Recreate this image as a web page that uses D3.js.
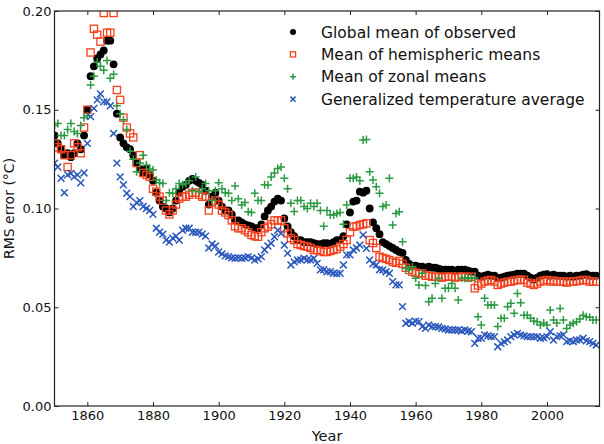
<!DOCTYPE html>
<html>
<head>
<meta charset="utf-8">
<script src="https://cdn.jsdelivr.net/npm/d3@7"></script>
<style>
  body { margin: 0; background: #fff; }
  svg { display: block; font-family: "DejaVu Sans", sans-serif; }
</style>
</head>
<body>
<div class="chart"></div>
<script>
// RMS error per year, 1850 onwards
var startYear = 1850;

var globalMean = [
  0.137, 0.133, 0.130, 0.127, 0.128, 0.126, 0.128, 0.133, 0.130, 0.137,
  0.150, 0.167, 0.172, 0.176, 0.178, 0.180, 0.185, 0.185, 0.173, 0.148,
  0.136, 0.133, 0.131, 0.130, 0.127, 0.123, 0.120, 0.118, 0.120, 0.117,
  0.114, 0.108, 0.104, 0.101, 0.100, 0.098, 0.100, 0.104, 0.108, 0.111,
  0.112, 0.114, 0.115, 0.114, 0.113, 0.112, 0.109, 0.102, 0.106, 0.108,
  0.104, 0.101, 0.099, 0.099, 0.097, 0.094, 0.094, 0.093, 0.092, 0.0915,
  0.091, 0.090, 0.090, 0.092, 0.096, 0.099, 0.101, 0.1035, 0.105, 0.104,
  0.095, 0.091, 0.088, 0.086, 0.084, 0.084, 0.083, 0.083, 0.083, 0.0825,
  0.082, 0.082, 0.0825, 0.0825, 0.082, 0.083, 0.084, 0.084, 0.086, 0.092,
  0.098, 0.1035, 0.104, 0.1085, 0.108, 0.109, 0.100, 0.093, 0.090, 0.087,
  0.083, 0.082, 0.081, 0.080, 0.079, 0.078, 0.0775, 0.074, 0.072, 0.071,
  0.071, 0.0705, 0.0705, 0.070, 0.0705, 0.070, 0.070, 0.0695, 0.069, 0.069,
  0.069, 0.069, 0.0685, 0.069, 0.069, 0.069, 0.0685, 0.068, 0.068, 0.066,
  0.0655, 0.066, 0.0665, 0.066, 0.066, 0.0647, 0.065, 0.0655, 0.066, 0.0663,
  0.0665, 0.067, 0.067, 0.067, 0.066, 0.065, 0.064, 0.065, 0.066, 0.0665,
  0.0668, 0.066, 0.0665, 0.066, 0.066, 0.066, 0.0655, 0.066, 0.0655, 0.066,
  0.066, 0.0665, 0.0668, 0.066, 0.066, 0.066
];

var hemiMean = [
  0.133, 0.131, 0.130, 0.127, 0.121, 0.127, 0.133, 0.131, 0.128, 0.141,
  0.150, 0.179, 0.191, 0.188, 0.1845, 0.199, 0.189, 0.189, 0.199, 0.160,
  0.155, 0.146, 0.141, 0.138, 0.136, 0.123, 0.127, 0.118, 0.117, 0.116,
  0.110, 0.1085, 0.106, 0.104, 0.099, 0.097, 0.099, 0.102, 0.105, 0.106,
  0.106, 0.107, 0.108, 0.108, 0.107, 0.106, 0.106, 0.099, 0.103, 0.104,
  0.102, 0.099, 0.098, 0.0967, 0.094, 0.091, 0.090, 0.090, 0.089, 0.088,
  0.0866, 0.086, 0.0857, 0.088, 0.090, 0.0908, 0.092, 0.094, 0.094, 0.094,
  0.090, 0.0874, 0.085, 0.084, 0.082, 0.0815, 0.081, 0.0807, 0.080, 0.079,
  0.079, 0.0785, 0.078, 0.078, 0.0785, 0.079, 0.0795, 0.0807, 0.082, 0.084,
  0.088, 0.0908, 0.091, 0.0917, 0.092, 0.0925, 0.084, 0.0825, 0.080, 0.0756,
  0.075, 0.0745, 0.0739, 0.073, 0.0725, 0.0735, 0.072, 0.070, 0.0689, 0.068,
  0.0675, 0.067, 0.0672, 0.066, 0.066, 0.0655, 0.0655, 0.0655, 0.065, 0.0655,
  0.0655, 0.0655, 0.065, 0.0655, 0.0655, 0.0655, 0.065, 0.0655, 0.0596, 0.061,
  0.062, 0.063, 0.0635, 0.0638, 0.063, 0.0613, 0.062, 0.0625, 0.0629, 0.063,
  0.0635, 0.0638, 0.064, 0.0638, 0.0625, 0.062, 0.0613, 0.062, 0.063, 0.0635,
  0.0638, 0.063, 0.0635, 0.063, 0.063, 0.063, 0.0625, 0.063, 0.063, 0.0632,
  0.0635, 0.0638, 0.0638, 0.063, 0.063, 0.063
];

var zonalMean = [
  0.142, 0.143, 0.137, 0.137, 0.140, 0.143, 0.139, 0.138, 0.142, 0.146,
  0.147, 0.1625, 0.167, 0.174, 0.172, 0.170, 0.175, 0.166, 0.168, 0.152,
  0.148, 0.145, 0.140, 0.129, 0.125, 0.1186, 0.123, 0.127, 0.122, 0.120,
  0.1195, 0.1144, 0.113, 0.1127, 0.104, 0.108, 0.1077, 0.110, 0.1127, 0.112,
  0.1127, 0.114, 0.109, 0.116, 0.1085, 0.110, 0.1127, 0.109, 0.104, 0.109,
  0.113, 0.110, 0.108, 0.1077, 0.104, 0.1114, 0.105, 0.1018, 0.103, 0.0984,
  0.098, 0.1077, 0.104, 0.104, 0.112, 0.1119, 0.116, 0.118, 0.1203, 0.121,
  0.1153, 0.110, 0.1026, 0.0985, 0.104, 0.104, 0.101, 0.100, 0.1026, 0.101,
  0.1026, 0.099, 0.091, 0.099, 0.0967, 0.0967, 0.0975, 0.098, 0.092, 0.1018,
  0.1153, 0.1153, 0.116, 0.114, 0.1347, 0.135, 0.1186, 0.1144, 0.111, 0.1077,
  0.101, 0.1018, 0.1153, 0.0916, 0.0975, 0.0984, 0.0832, 0.0697, 0.069, 0.0705,
  0.0647, 0.0613, 0.0672, 0.061, 0.0528, 0.0545, 0.062, 0.0647, 0.0545, 0.0596,
  0.0596, 0.062, 0.0596, 0.0537, 0.0647, 0.0647, 0.065, 0.0647, 0.065, 0.0452,
  0.041, 0.0545, 0.0511, 0.0511, 0.0511, 0.0402, 0.0444, 0.0444, 0.0503, 0.052,
  0.0469, 0.057, 0.0523, 0.046, 0.046, 0.0444, 0.043, 0.0427, 0.041, 0.042,
  0.041, 0.0486, 0.0435, 0.042, 0.0494, 0.0435, 0.0393, 0.041, 0.0419, 0.0427,
  0.044, 0.046, 0.0452, 0.045, 0.0435, 0.0435
];

var gtaMean = [
  0.123, 0.121, 0.1153, 0.108, 0.117, 0.1178, 0.116, 0.117, 0.113, 0.118,
  0.133, 0.1465, 0.1507, 0.155, 0.158, 0.154, 0.154, 0.152, 0.138, 0.123,
  0.116, 0.112, 0.1077, 0.106, 0.101, 0.103, 0.104, 0.101, 0.100, 0.099,
  0.097, 0.090, 0.088, 0.087, 0.084, 0.083, 0.085, 0.086, 0.084, 0.089,
  0.090, 0.090, 0.088, 0.088, 0.088, 0.087, 0.086, 0.080, 0.082, 0.081,
  0.078, 0.077, 0.076, 0.0756, 0.075, 0.0748, 0.075, 0.0748, 0.075, 0.0756,
  0.075, 0.0739, 0.0745, 0.0756, 0.079, 0.081, 0.0824, 0.0857, 0.089, 0.0874,
  0.0815, 0.0773, 0.0714, 0.073, 0.0739, 0.074, 0.0748, 0.074, 0.0739, 0.0748,
  0.0722, 0.0689, 0.069, 0.068, 0.068, 0.0672, 0.067, 0.0672, 0.0714, 0.0765,
  0.0765, 0.079, 0.080, 0.0815, 0.0866, 0.0798, 0.0739, 0.072, 0.0714, 0.069,
  0.0689, 0.068, 0.0672, 0.063, 0.0613, 0.0613, 0.0503, 0.0419, 0.0427, 0.0419,
  0.043, 0.0427, 0.0402, 0.0393, 0.041, 0.0402, 0.0402, 0.040, 0.0393, 0.039,
  0.0385, 0.0385, 0.0385, 0.0385, 0.038, 0.0385, 0.038, 0.0376, 0.0317, 0.0343,
  0.0343, 0.036, 0.0355, 0.0351, 0.0351, 0.030, 0.0317, 0.0325, 0.0334, 0.0351,
  0.036, 0.0368, 0.036, 0.0355, 0.0351, 0.0351, 0.035, 0.0351, 0.0343, 0.0345,
  0.0351, 0.0376, 0.0334, 0.0351, 0.0355, 0.036, 0.0326, 0.033, 0.0326, 0.0334,
  0.0335, 0.0343, 0.033, 0.0326, 0.0317, 0.0309
];

var seriesNames = [
  "Global mean of observed",
  "Mean of hemispheric means",
  "Mean of zonal means",
  "Generalized temperature average"
];
var xTicks = [1860, 1880, 1900, 1920, 1940, 1960, 1980, 2000];
var yTicks = [0.0, 0.05, 0.1, 0.15, 0.2];

var width = 604,
  height = 444,
  margin = { top: 11, right: 4.5, bottom: 38, left: 54.5 };

var svg = d3
  .select(".chart")
  .append("svg")
  .attr("width", width)
  .attr("height", height);

var x = d3
  .scaleLinear()
  .domain([1850, 2016])
  .range([margin.left, width - margin.right]);
var y = d3
  .scaleLinear()
  .domain([0, 0.2])
  .range([height - margin.bottom, margin.top]);

svg
  .append("clipPath")
  .attr("id", "plot-clip")
  .append("rect")
  .attr("x", x(1850))
  .attr("y", y(0.2))
  .attr("width", x(2016) - x(1850))
  .attr("height", y(0) - y(0.2));

var series = [
  { name: seriesNames[0], values: globalMean, shape: "circle", color: "#000000" },
  { name: seriesNames[1], values: hemiMean, shape: "square", color: "#f4421e" },
  { name: seriesNames[2], values: zonalMean, shape: "plus", color: "#2c9a42" },
  { name: seriesNames[3], values: gtaMean, shape: "cross", color: "#2b58bb" }
];

// s = half size of the marker
function drawMarker(g, shape, color, s) {
  if (shape === "circle") {
    g.append("circle").attr("r", s).attr("fill", color);
  } else if (shape === "square") {
    g.append("rect")
      .attr("x", -s)
      .attr("y", -s)
      .attr("width", 2 * s)
      .attr("height", 2 * s)
      .attr("fill", "none")
      .attr("stroke", color)
      .attr("stroke-width", 1.3);
  } else if (shape === "plus") {
    g.append("path")
      .attr("d", "M" + -s + ",0H" + s + "M0," + -s + "V" + s)
      .attr("stroke", color)
      .attr("stroke-width", 1.5);
  } else {
    var c = s * 0.85;
    g.append("path")
      .attr("d", "M" + -c + "," + -c + "L" + c + "," + c + "M" + -c + "," + c + "L" + c + "," + -c)
      .attr("stroke", color)
      .attr("stroke-width", 1.5);
  }
}

var markerSize = { circle: 3.9, square: 3.6, plus: 4, cross: 4 };

var plot = svg.append("g").attr("clip-path", "url(#plot-clip)");

series.forEach(function (s) {
  plot
    .append("g")
    .selectAll("g")
    .data(s.values)
    .enter()
    .append("g")
    .attr("transform", function (d, i) {
      return "translate(" + x(startYear + i) + "," + y(d) + ")";
    })
    .each(function () {
      drawMarker(d3.select(this), s.shape, s.color, markerSize[s.shape]);
    });
});

// axes, ticks pointing inwards on all four sides
function styleAxis(g) {
  g.select(".domain").remove();
  g.selectAll("line").attr("stroke", "#222").attr("stroke-width", 1);
  g.selectAll("text")
    .attr("fill", "#111")
    .style("font-size", "13px")
    .style("font-family", "DejaVu Sans");
}

svg
  .append("g")
  .attr("transform", "translate(0," + y(0) + ")")
  .call(d3.axisBottom(x).tickValues(xTicks).tickFormat(d3.format("d")).tickSizeInner(-4).tickSizeOuter(0).tickPadding(5))
  .call(styleAxis);

svg
  .append("g")
  .attr("transform", "translate(0," + y(0.2) + ")")
  .call(d3.axisTop(x).tickValues(xTicks).tickFormat("").tickSizeInner(-4).tickSizeOuter(0))
  .call(styleAxis);

svg
  .append("g")
  .attr("transform", "translate(" + x(1850) + ",0)")
  .call(d3.axisLeft(y).tickValues(yTicks).tickFormat(d3.format(".2f")).tickSizeInner(-4).tickSizeOuter(0).tickPadding(3))
  .call(styleAxis);

svg
  .append("g")
  .attr("transform", "translate(" + x(2016) + ",0)")
  .call(d3.axisRight(y).tickValues(yTicks).tickFormat("").tickSizeInner(-4).tickSizeOuter(0))
  .call(styleAxis);

svg
  .append("rect")
  .attr("x", x(1850))
  .attr("y", y(0.2))
  .attr("width", x(2016) - x(1850))
  .attr("height", y(0) - y(0.2))
  .attr("fill", "none")
  .attr("stroke", "#222")
  .attr("stroke-width", 1.2);

svg
  .append("text")
  .attr("x", (x(1850) + x(2016)) / 2)
  .attr("y", 441)
  .attr("text-anchor", "middle")
  .style("font-size", "14.5px")
  .attr("fill", "#111")
  .text("Year");

svg
  .append("text")
  .attr("transform", "translate(14," + y(0.1) + ") rotate(-90)")
  .attr("text-anchor", "middle")
  .style("font-size", "14px")
  .attr("fill", "#111")
  .text("RMS error (°C)");

// legend
var legend = svg
  .append("g")
  .selectAll("g")
  .data(series)
  .enter()
  .append("g")
  .attr("transform", function (d, i) {
    return "translate(293," + (32 + i * 22.4) + ")";
  });

legend.each(function (d) {
  var g = d3.select(this).append("g");
  drawMarker(g, d.shape, d.color, d.shape === "square" ? 2.6 : 3);
});

legend
  .append("text")
  .attr("x", 28)
  .attr("dy", "0.36em")
  .style("font-size", "15.5px")
  .attr("fill", "#111")
  .text(function (d) {
    return d.name;
  });
</script>
</body>
</html>
